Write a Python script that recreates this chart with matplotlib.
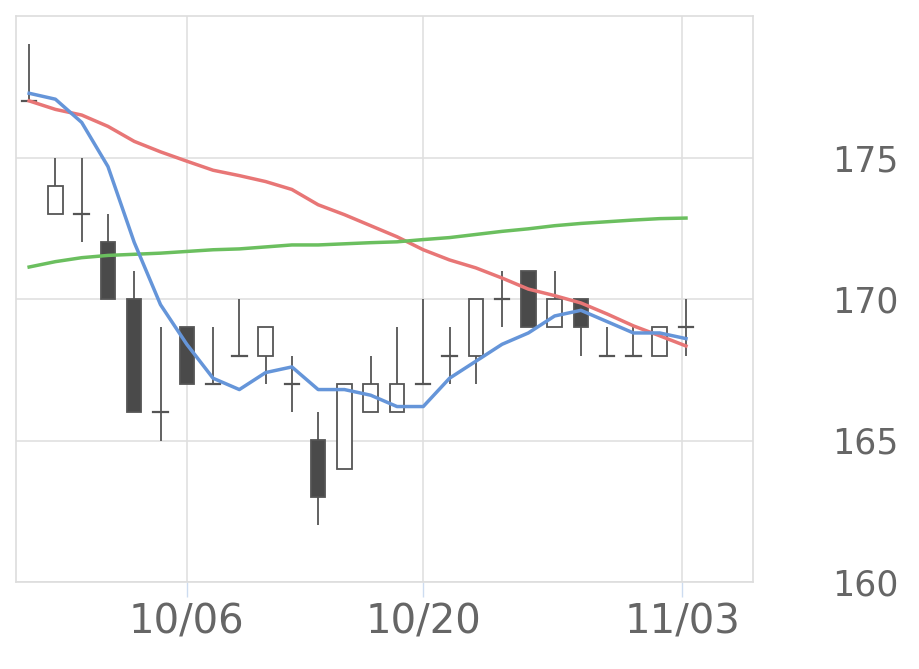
import matplotlib
matplotlib.use("Agg")
import matplotlib.pyplot as plt
from matplotlib.patches import Rectangle

# daily candles, 9/26 .. 11/03 (trading days)
opens = [177, 173, 173, 172, 170, 166, 169, 167, 168, 168, 167, 165, 164,
         166, 166, 167, 168, 168, 170, 171, 169, 170, 168, 168, 168, 169]
highs = [179, 175, 175, 173, 171, 169, 169, 169, 170, 169, 168, 166, 167,
         168, 169, 170, 169, 170, 171, 171, 171, 170, 169, 169, 169, 170]
lows = [177, 173, 172, 170, 166, 165, 167, 167, 168, 167, 166, 162, 164,
        166, 166, 167, 167, 167, 169, 169, 169, 168, 168, 168, 168, 168]
closes = [177, 174, 173, 170, 166, 166, 167, 167, 168, 169, 167, 163, 167,
          167, 167, 167, 168, 170, 170, 169, 170, 169, 168, 168, 169, 169]

ma_short = [177.27, 177.06, 176.24, 174.68, 172.0, 169.8, 168.4, 167.2, 166.8,
            167.4, 167.6, 166.8, 166.8, 166.6, 166.2, 166.2, 167.2, 167.8,
            168.4, 168.8, 169.4, 169.6, 169.2, 168.8, 168.8, 168.6]
ma_mid = [177.0, 176.7, 176.5, 176.1, 175.57, 175.2, 174.87, 174.55, 174.36,
          174.15, 173.87, 173.33, 172.98, 172.59, 172.2, 171.74, 171.38,
          171.1, 170.74, 170.35, 170.12, 169.86, 169.47, 169.05, 168.7, 168.34]
ma_long = [171.13, 171.32, 171.46, 171.54, 171.58, 171.62, 171.68, 171.74,
           171.77, 171.84, 171.91, 171.91, 171.95, 171.99, 172.02, 172.1,
           172.17, 172.28, 172.39, 172.48, 172.59, 172.67, 172.73, 172.79,
           172.84, 172.86]

tick_pos = [6, 15, 24.85]
tick_labels = ["10/06", "10/20", "11/03"]
y_ticks = [160, 165, 170, 175]

fig = plt.figure(figsize=(9.2, 6.69), dpi=100)
ax = fig.add_axes([16 / 920, 87 / 669, 737 / 920, 566 / 669])

edge = "#555555"
w = 0.55
for i in range(len(opens)):
    o, h, l, c = opens[i], highs[i], lows[i], closes[i]
    ax.plot([i, i], [l, h], color=edge, lw=1.3, zorder=2, solid_capstyle="butt")
    if o == c:
        ax.plot([i - w / 2, i + w / 2], [o, o], color=edge, lw=1.6, zorder=3)
    else:
        face = "white" if c > o else "#4a4a4a"
        ax.add_patch(Rectangle((i - w / 2, min(o, c)), w, abs(c - o),
                               facecolor=face, edgecolor=edge, lw=1.3, zorder=3))

x = list(range(len(opens)))
ax.plot(x, ma_mid, color="#e87676", lw=2.5, zorder=4)
ax.plot(x, ma_long, color="#6bbf5f", lw=2.5, zorder=4)
ax.plot(x, ma_short, color="#6595d9", lw=2.5, zorder=5)

ax.set_xlim(-0.5, 27.55)
ax.set_ylim(160, 180)
ax.set_xticks(tick_pos)
ax.set_xticklabels(tick_labels)
ax.set_yticks(y_ticks)
ax.yaxis.tick_right()
ax.tick_params(axis="y", length=0, pad=57, labelsize=25, labelcolor="#666666")
ax.tick_params(axis="x", length=11, width=1, color="#cddcf0", pad=4,
               labelsize=29, labelcolor="#666666")
ax.grid(True, color="#e0e0e0", lw=1.2, zorder=0)
ax.set_axisbelow(True)
for s in ax.spines.values():
    s.set_color("#dddddd")
    s.set_linewidth(1.2)

fig.savefig("out.png", dpi=100)
